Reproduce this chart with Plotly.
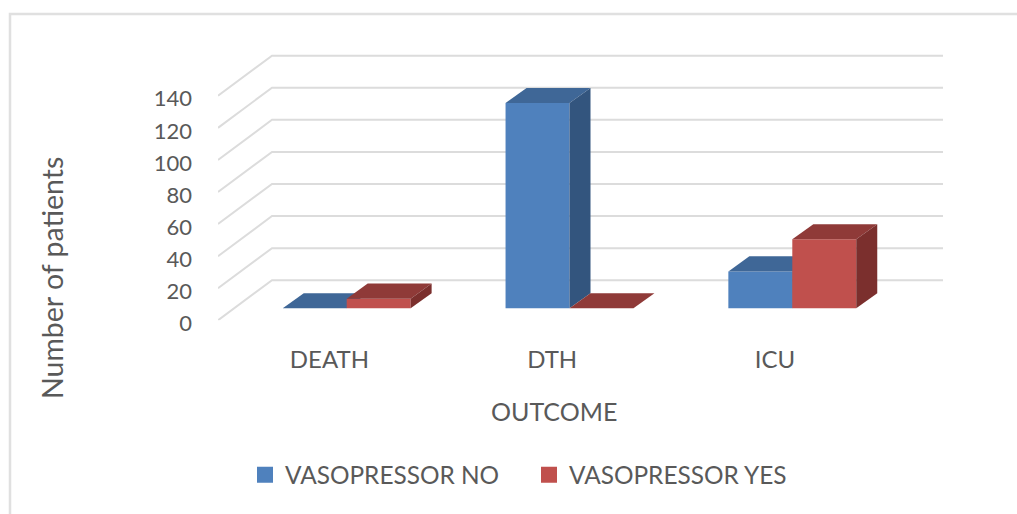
import plotly.graph_objects as go

categories = ["DEATH", "DTH", "ICU"]
positions = [0, 1, 2]
vasopressor_no = [0, 128, 23]
vasopressor_yes = [6, 0, 43]
value_ticks = [0, 20, 40, 60, 80, 100, 120, 140]

W, H = 1017, 514
FONT = "Lato"
TEXT = "#595959"
# projection constants (axis units)
X0, X_SPAN_END = -0.5, 2.754
Y_TOP = 181.0
WALL_DX, WALL_DY = 0.2424, 25.0
PLANE_DX, PLANE_DY = 0.0776, 7.48
BAR_W = 0.287
BAR_DX, BAR_DY = 0.0943, 9.4

fig = go.Figure()

# gridlines: front edge -> back wall -> right end
gx, gy = [], []
for v in value_ticks:
    gx += [X0, X0 + WALL_DX, X_SPAN_END, None]
    gy += [v, v + WALL_DY, v + WALL_DY, None]
fig.add_trace(go.Scatter(x=gx, y=gy, mode="lines", line=dict(color="#DCDCDC", width=2),
                         showlegend=False, hoverinfo="skip", xaxis="x", yaxis="y"))


def add_series(values, name, front, top, side, left_edge, ax):
    xa, ya = f"x{ax}", f"y{ax}"
    fig.add_trace(go.Bar(x=positions, y=values, width=BAR_W, offset=left_edge, name=name,
                         marker=dict(color=front, line=dict(width=0)), showlegend=False,
                         xaxis=xa, yaxis=ya))
    for p, v in zip(positions, values):
        l = p + left_edge
        r = l + BAR_W
        fig.add_trace(go.Scatter(
            x=[l, r, r + BAR_DX, l + BAR_DX, l], y=[v, v, v + BAR_DY, v + BAR_DY, v],
            mode="lines", fill="toself", fillcolor=top, line=dict(width=0),
            showlegend=False, hoverinfo="skip", xaxis=xa, yaxis=ya))
        if v > 0:
            fig.add_trace(go.Scatter(
                x=[r, r + BAR_DX, r + BAR_DX, r, r], y=[0, BAR_DY, v + BAR_DY, v, 0],
                mode="lines", fill="toself", fillcolor=side, line=dict(width=0),
                showlegend=False, hoverinfo="skip", xaxis=xa, yaxis=ya))
    fig.add_trace(go.Scatter(x=[None], y=[None], mode="markers", name=name,
                             marker=dict(symbol="square", size=16, color=front),
                             xaxis=xa, yaxis=ya))


add_series(vasopressor_no, "VASOPRESSOR NO", "#4F81BD", "#3F6797", "#33557E", -BAR_W, 2)
add_series(vasopressor_yes, "VASOPRESSOR YES", "#C0504D", "#8F3A38", "#7B2F2D", 0, 3)

x_domain = [218 / W, 943 / W]
y_domain = [(H - 320.3) / H, (H - 30) / H]
hidden = dict(visible=False, fixedrange=True)
x_shift = [X0 - PLANE_DX, X_SPAN_END - PLANE_DX]
y_shift = [-PLANE_DY, Y_TOP - PLANE_DY]

fig.update_layout(
    width=W, height=H, margin=dict(l=0, r=0, t=0, b=0, autoexpand=False),
    paper_bgcolor="white", plot_bgcolor="white",
    font=dict(family=FONT, color=TEXT, size=22),
    barmode="overlay",
    xaxis=dict(domain=x_domain, range=[X0, X_SPAN_END], tickmode="array", tickvals=positions,
               ticktext=categories, showgrid=False, zeroline=False, showline=False, ticks="",
               ticklabelstandoff=23, tickfont=dict(size=24, family=FONT, color=TEXT), fixedrange=True),
    yaxis=dict(domain=y_domain, range=[0, Y_TOP], tickmode="array", tickvals=value_ticks,
               showgrid=False, zeroline=False, showline=False, ticks="",
               ticklabelstandoff=25, ticklabelshift=3,
               tickfont=dict(size=22, family=FONT, color=TEXT), fixedrange=True),
    xaxis2=dict(domain=x_domain, range=x_shift, overlaying="x", anchor="y2", **hidden),
    yaxis2=dict(domain=y_domain, range=y_shift, overlaying="y", anchor="x2", **hidden),
    xaxis3=dict(domain=x_domain, range=x_shift, overlaying="x", anchor="y3", **hidden),
    yaxis3=dict(domain=y_domain, range=y_shift, overlaying="y", anchor="x3", **hidden),
    legend=dict(orientation="h", x=245 / W, xanchor="left", y=(H - 475) / H, yanchor="middle",
                entrywidth=239, entrywidthmode="pixels", itemwidth=30,
                font=dict(size=24.4, family=FONT, color=TEXT), bgcolor="rgba(0,0,0,0)"),
    shapes=[dict(type="path", xref="paper", yref="paper",
                 path=f"M {10/W} 0 L {10/W} {(H-14)/H} L 1 {(H-14)/H}",
                 line=dict(color="#E0E0E0", width=2.5))],
    annotations=[
        dict(text="Number of patients", textangle=-90, xref="paper", yref="paper",
             x=52 / W, y=(H - 278) / H, showarrow=False, xanchor="center", yanchor="middle",
             font=dict(size=28.5, family=FONT, color=TEXT)),
        dict(text="OUTCOME", xref="paper", yref="paper", x=554 / W, y=(H - 411) / H,
             showarrow=False, xanchor="center", yanchor="middle",
             font=dict(size=25, family=FONT, color=TEXT)),
    ],
)

fig.write_html("out.html", config={"displayModeBar": False},
               post_script="document.body.style.margin='0';document.documentElement.style.overflow='hidden';")
